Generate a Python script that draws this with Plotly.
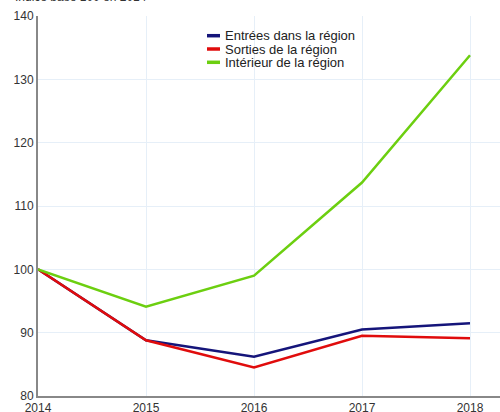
import plotly.graph_objects as go

years = [2014, 2015, 2016, 2017, 2018]
entrees = [100, 88.8, 86.2, 90.5, 91.5]
sorties = [100, 88.8, 84.5, 89.5, 89.1]
interieur = [100, 94.1, 99.0, 113.7, 133.8]
names = ["Entrées dans la région", "Sorties de la région", "Intérieur de la région"]
colors = ["#15157a", "#e00c0c", "#6ccf10"]
y_ticks = [80, 90, 100, 110, 120, 130, 140]

L, T, W, H = 38, 16, 462, 380


def px(x):
    return (x - L) / W


def py(y):
    return (T + H - y) / H


fig = go.Figure()
for vals, name, col in zip([entrees, sorties, interieur], names, colors):
    fig.add_trace(go.Scatter(x=years, y=vals, mode="lines", name=name,
                             line=dict(color=col, width=2.5), showlegend=False))

shapes = []
annotations = [dict(text="Indice base 100 en 2014", xref="paper", yref="paper",
                    x=px(13), y=py(6), xanchor="left", yanchor="bottom",
                    showarrow=False, font=dict(size=12, color="#333"))]
for i, (name, col) in enumerate(zip(names, colors)):
    yy = 35.7 + i * 13.3
    shapes.append(dict(type="line", xref="paper", yref="paper",
                       x0=px(207), x1=px(220), y0=py(yy), y1=py(yy),
                       line=dict(color=col, width=3.5)))
    annotations.append(dict(text=name, xref="paper", yref="paper",
                            x=px(224), y=py(yy), xanchor="left", yanchor="middle",
                            borderpad=0,
                            showarrow=False, font=dict(size=13, color="#222")))

fig.update_layout(
    width=500, height=412,
    margin=dict(l=L, r=0, t=T, b=412 - T - H, autoexpand=False),
    plot_bgcolor="white", paper_bgcolor="white",
    font=dict(family="Liberation Sans, Arial, sans-serif", size=12, color="#333"),
    showlegend=False,
    xaxis=dict(range=[2014, 2018 + 30 / 108], tickvals=years, ticktext=[str(y) for y in years],
               showgrid=True, gridcolor="#e6eff8", gridwidth=1, automargin=False,
               showline=True, linecolor="#888", linewidth=2, zeroline=False,
               ticks="", tickfont=dict(size=12, color="#333")),
    yaxis=dict(range=[80, 140], tickvals=y_ticks, automargin=False,
               showgrid=True, gridcolor="#e6eff8", gridwidth=1,
               showline=True, linecolor="#888", linewidth=2, zeroline=False,
               ticks="", tickfont=dict(size=12, color="#333")),
    shapes=shapes,
    annotations=annotations,
)

fig.write_html("out.html", config={"displayModeBar": False},
               post_script="document.body.style.margin='0';")
